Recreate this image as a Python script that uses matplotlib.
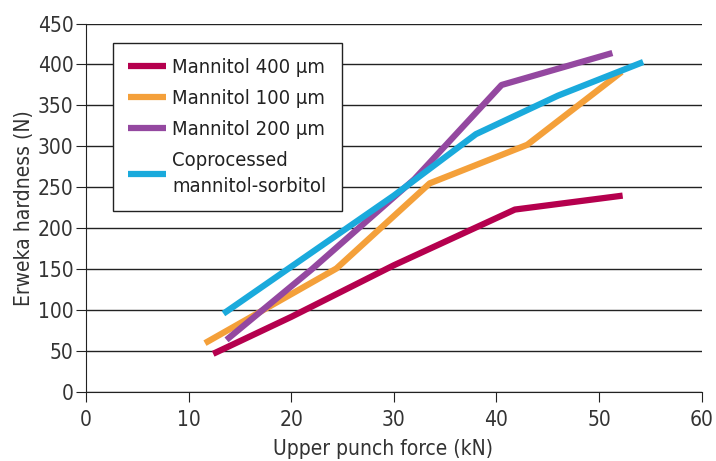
import matplotlib
matplotlib.use("Agg")
import matplotlib.pyplot as plt

# values
m400_x = [12.4, 20, 30, 41.8, 52.3]
m400_y = [47, 92, 155, 223, 240]

m100_x = [11.6, 24.4, 33.5, 43, 52.2]
m100_y = [60, 151, 255, 302, 391]

m200_x = [13.7, 22, 32, 40.5, 51.3]
m200_y = [64, 150, 260, 375, 414]

copro_x = [13.4, 30, 38, 46, 54.3]
copro_y = [96, 240, 315, 362, 403]

labels = ["Mannitol 400 \u00b5m", "Mannitol 100 \u00b5m", "Mannitol 200 \u00b5m",
          "Coprocessed\nmannitol-sorbitol"]
colors = ["#B5004E", "#F4A03A", "#9448A0", "#1AAADC"]

plt.rcParams['font.family'] = ['DejaVu Sans']
plt.rcParams['font.stretch'] = 'condensed'
plt.rcParams['text.color'] = '#222222'

fig = plt.figure(figsize=(7.16, 4.61), dpi=100)
ax = fig.add_axes([0.120, 0.149, 0.860, 0.800])

series = [(m400_x, m400_y), (m100_x, m100_y), (m200_x, m200_y), (copro_x, copro_y)]
for (xs, ys), lab, col in zip(series, labels, colors):
    ax.plot(xs, ys, color=col, lw=4.5, label=lab, solid_capstyle='butt', zorder=3)

ax.set_xlim(0, 60)
ax.set_ylim(0, 450)
ax.set_xticks(range(0, 61, 10))
ax.set_yticks(range(0, 451, 50))
ax.grid(axis='y', color='#222222', lw=1)
ax.set_axisbelow(True)
for s in ['top', 'right']:
    ax.spines[s].set_visible(False)
for s in ['left', 'bottom']:
    ax.spines[s].set_color('#222222')
ax.tick_params(length=7, color='#222222', labelcolor='#333333', labelsize=15, pad=2)
ax.tick_params(axis='x', pad=6)

ax.set_xlabel("Upper punch force (kN)", fontsize=15, color='#333333', labelpad=6)
ax.xaxis.label.set_x(0.482)
ax.set_ylabel("Erweka hardness (N)", fontsize=15, color='#333333', labelpad=3)

leg = ax.legend(loc='upper left', bbox_to_anchor=(0.044, 0.947), borderaxespad=0,
                fontsize=14.5, frameon=True, fancybox=False, edgecolor='#222222',
                framealpha=1, handlelength=1.9, handletextpad=0.3, borderpad=0.75,
                labelspacing=0.6)
leg.get_frame().set_linewidth(1)
for t in leg.get_texts():
    t.set_linespacing(1.45)

fig.savefig("out.png", dpi=100)
